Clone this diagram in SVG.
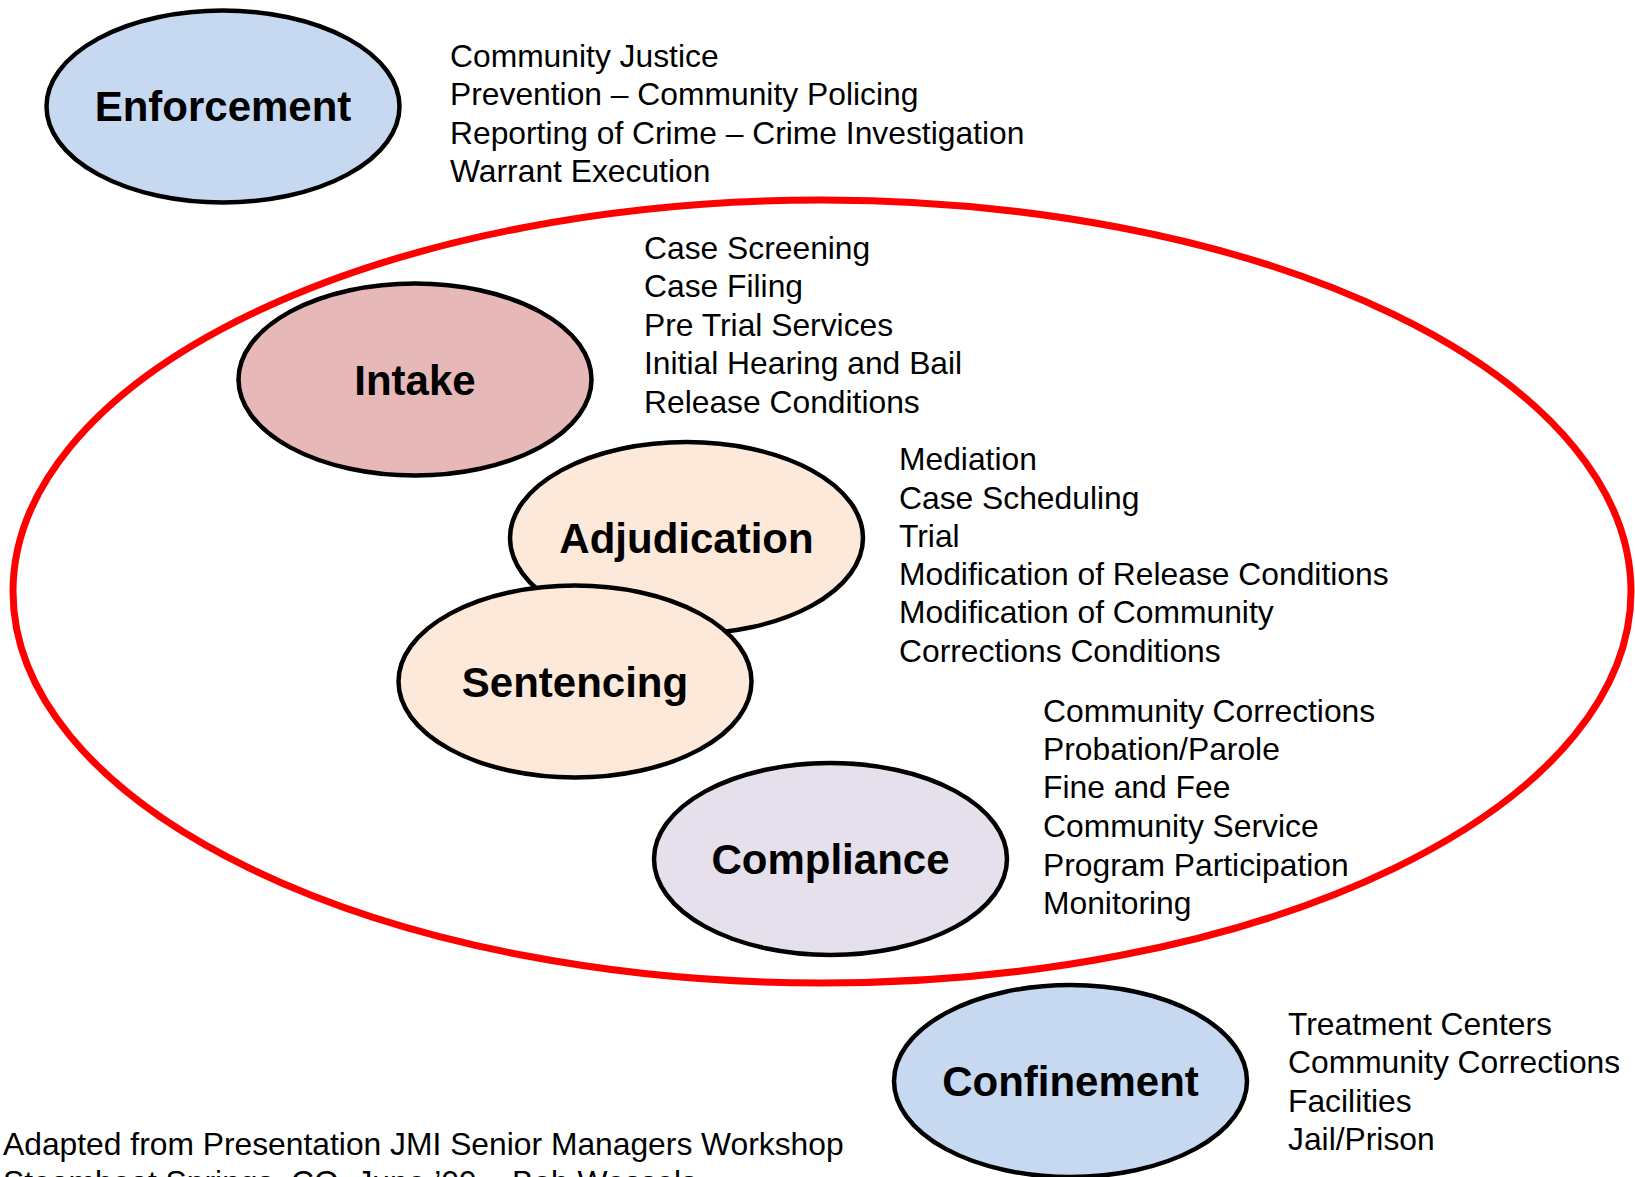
<svg xmlns="http://www.w3.org/2000/svg" width="1635" height="1177" viewBox="0 0 1635 1177">
<style>
.node{stroke:#000;stroke-width:4.5}
.lbl{font-family:"Liberation Sans",Arial,sans-serif;font-weight:bold;font-size:42px;fill:#000;text-anchor:middle}
.item{font-family:"Liberation Sans",Arial,sans-serif;font-size:31.8px;fill:#000}
.blue{fill:#C6D9F1}
.pink{fill:#E6B9B8}
.peach{fill:#FDE9D9}
.lav{fill:#E5E0EC}
</style>
<rect width="1635" height="1177" fill="#fff"/>
<g id="connectors">
<ellipse id="scope" cx="822" cy="591.5" rx="809" ry="391.5" fill="none" stroke="#FF0000" stroke-width="7"/>
</g>
<g id="enforcement">
<ellipse class="node blue" cx="223" cy="106.5" rx="176.5" ry="96"/>
<text class="lbl" x="223" y="121">Enforcement</text>
<text class="item" x="450" y="66.5">Community Justice</text>
<text class="item" x="450" y="105">Prevention – Community Policing</text>
<text class="item" x="450" y="144">Reporting of Crime – Crime Investigation</text>
<text class="item" x="450" y="182">Warrant Execution</text>
</g>
<g id="intake">
<ellipse class="node pink" cx="415" cy="379.5" rx="176.5" ry="96"/>
<text class="lbl" x="415" y="394.5">Intake</text>
<text class="item" x="644" y="259">Case Screening</text>
<text class="item" x="644" y="297">Case Filing</text>
<text class="item" x="644" y="335.5">Pre Trial Services</text>
<text class="item" x="644" y="374">Initial Hearing and Bail</text>
<text class="item" x="644" y="412.5">Release Conditions</text>
</g>
<g id="adjudication">
<ellipse class="node peach" cx="686.5" cy="538" rx="176.5" ry="96"/>
<text class="lbl" x="686.5" y="553">Adjudication</text>
<text class="item" x="899" y="470">Mediation</text>
<text class="item" x="899" y="508.5">Case Scheduling</text>
<text class="item" x="899" y="546.5">Trial</text>
<text class="item" x="899" y="585">Modification of Release Conditions</text>
<text class="item" x="899" y="623">Modification of Community</text>
<text class="item" x="899" y="661.5">Corrections Conditions</text>
</g>
<g id="sentencing">
<ellipse class="node peach" cx="575" cy="681.5" rx="176.5" ry="96"/>
<text class="lbl" x="575" y="697">Sentencing</text>
</g>
<g id="compliance">
<ellipse class="node lav" cx="830.5" cy="859" rx="176.5" ry="96"/>
<text class="lbl" x="830.5" y="874">Compliance</text>
<text class="item" x="1043" y="722">Community Corrections</text>
<text class="item" x="1043" y="760">Probation/Parole</text>
<text class="item" x="1043" y="798">Fine and Fee</text>
<text class="item" x="1043" y="837">Community Service</text>
<text class="item" x="1043" y="875.5">Program Participation</text>
<text class="item" x="1043" y="914">Monitoring</text>
</g>
<g id="confinement">
<ellipse class="node blue" cx="1070.5" cy="1081" rx="176.5" ry="96"/>
<text class="lbl" x="1070.5" y="1096">Confinement</text>
<text class="item" x="1288" y="1035">Treatment Centers</text>
<text class="item" x="1288" y="1073">Community Corrections</text>
<text class="item" x="1288" y="1112">Facilities</text>
<text class="item" x="1288" y="1150">Jail/Prison</text>
</g>
<g id="footer">
<text class="item" x="3" y="1154.5">Adapted from Presentation JMI Senior Managers Workshop</text>
<text class="item" x="3" y="1193">Steamboat Springs, CO, June ’09 – Bob Wessels</text>
</g>
</svg>
